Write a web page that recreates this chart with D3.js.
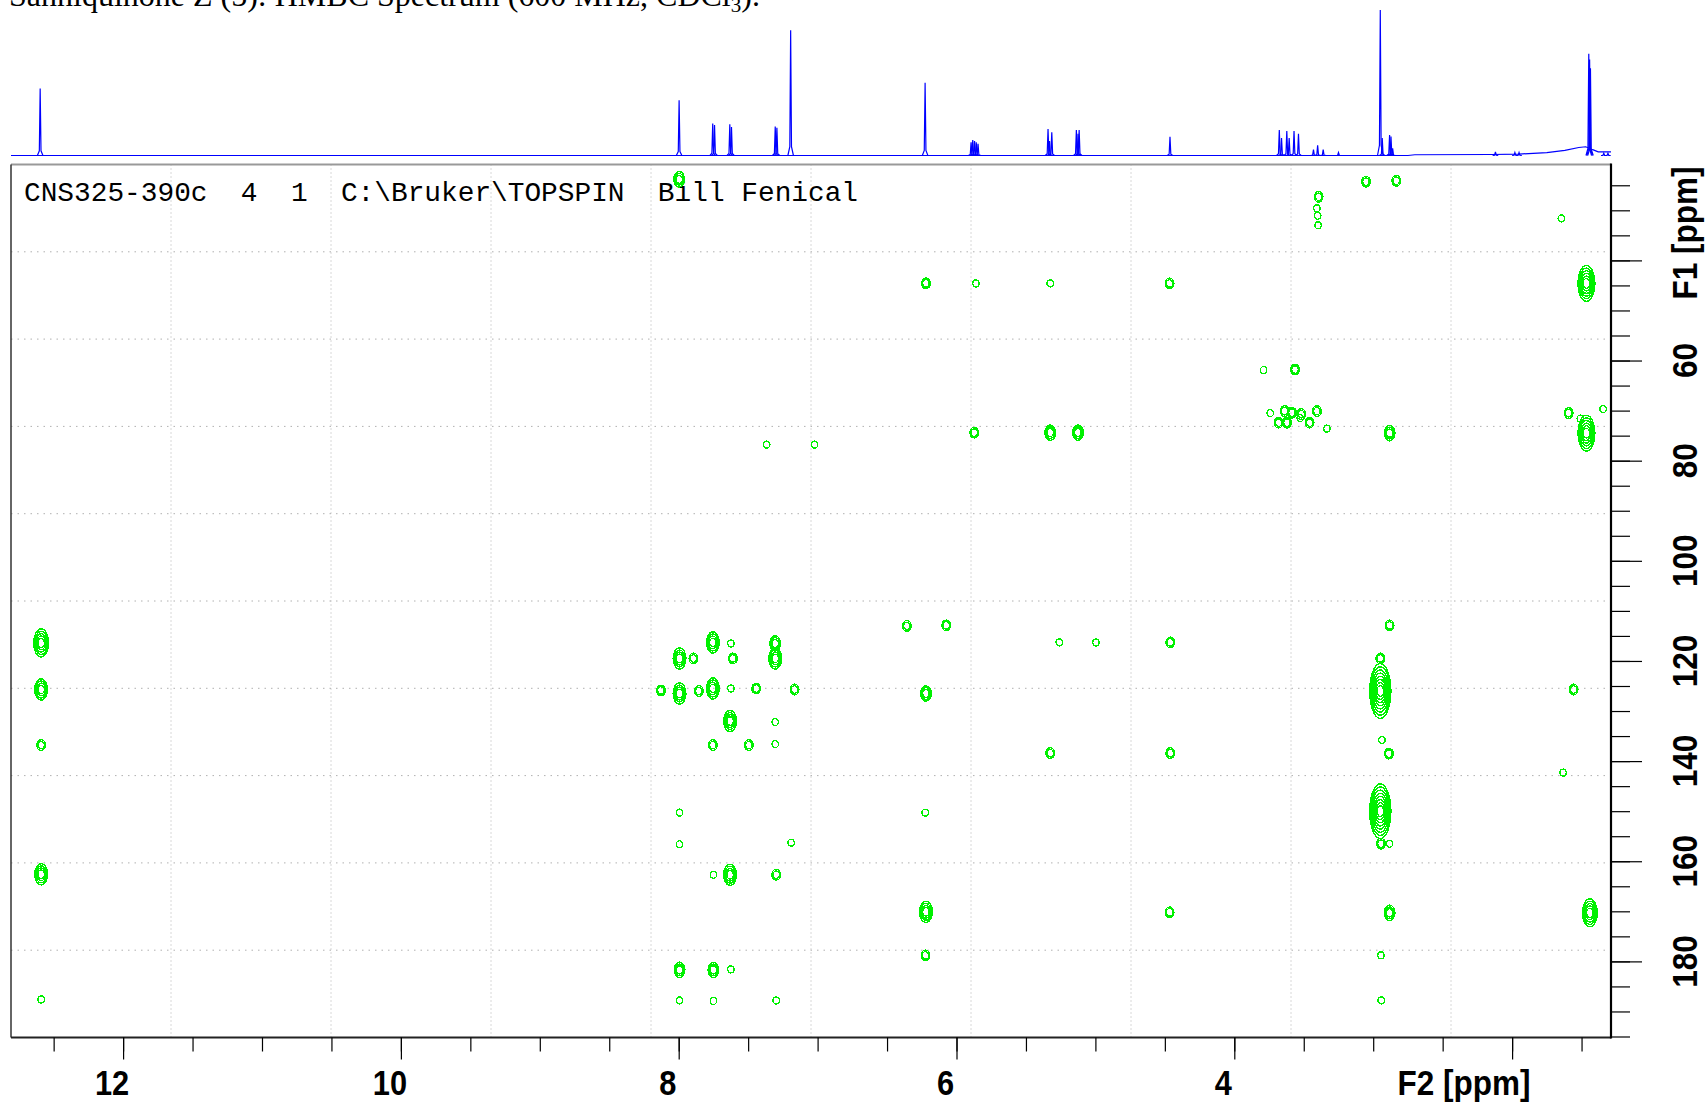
<!DOCTYPE html>
<html>
<head>
<meta charset="utf-8">
<script src="https://d3js.org/d3.v7.min.js"></script>
<style>
	body { margin: 0; background: #fff; }
	svg { display: block; }
	.axis-label { font-family: "Liberation Sans", Arial, sans-serif; font-weight: bold; font-size: 35px; fill: #000; }
	.header { font-family: "Liberation Mono", "Courier New", monospace; font-size: 27.8px; fill: #000; white-space: pre; }
	.title { font-family: "Liberation Serif", "Times New Roman", serif; font-size: 32px; fill: #000; }
</style>
</head>
<body>
<div id="chart"></div>
<script>
// 1H projection on top: [ppm, relative intensity]
let protonPeaks = [
	[12.597, 46], [7.997, 38], [7.755, 22], [7.742, 21], [7.632, 21.5], [7.620, 19.5],
	[7.305, 20], [7.293, 19], [7.194, 86], [6.226, 50],
	[5.895, 9], [5.883, 10.6], [5.870, 10], [5.858, 9], [5.845, 8],
	[5.341, 18.2], [5.330, 10], [5.314, 16], [5.137, 17.5], [5.125, 15], [5.117, 17.5],
	[4.463, 12.9], [3.676, 17.5], [3.660, 12], [3.622, 16.8], [3.605, 12], [3.570, 16.8], [3.538, 15],
	[3.43, 4], [3.40, 7], [3.36, 4], [3.25, 2], [2.949, 100], [2.935, 12], [2.882, 14], [2.872, 13], [2.86, 5],
	[2.12, 2.5], [1.98, 2], [1.95, 2], [1.448, 70], [1.442, 66], [1.436, 60], [1.34, 1.5], [1.31, 1.5]
];
let protonBaseline = [
	[12.807, 0], [2.75, 0], [2.70, 0.5], [2.15, 0.7], [1.95, 1], [1.75, 2], [1.62, 3.5],
	[1.52, 5.5], [1.47, 6], [1.42, 4], [1.38, 2.5], [1.288, 2.5]
];

// HMBC cross peaks: [F2 ppm, F1 ppm, number of contour levels]
let crossPeaks = [
	[12.59, 116.4, 5], [12.59, 125.7, 4], [12.59, 136.8, 2], [12.59, 162.6, 4], [12.59, 187.6, 1],
	[7.997, 23.8, 3], [8.128, 125.9, 2], [7.994, 119.5, 4], [7.994, 126.5, 4], [7.894, 119.5, 2],
	[7.855, 126.0, 2], [7.754, 116.3, 4], [7.754, 125.5, 4], [7.624, 116.5, 1], [7.610, 119.5, 2],
	[7.624, 125.5, 1], [7.442, 125.5, 2], [7.166, 125.7, 2], [7.63, 132.0, 4], [7.305, 132.2, 1],
	[7.305, 116.5, 3], [7.305, 119.5, 4], [7.754, 136.8, 2], [7.495, 136.8, 2], [7.305, 136.6, 1],
	[7.994, 150.3, 1], [7.994, 156.6, 1], [7.19, 156.3, 1], [7.75, 162.7, 1], [7.63, 162.7, 4],
	[7.298, 162.7, 2], [7.994, 181.7, 3], [7.75, 181.7, 3], [7.624, 181.6, 1], [7.994, 187.8, 1],
	[7.75, 187.9, 1], [7.298, 187.8, 1], [7.367, 76.8, 1], [7.022, 76.8, 1],
	[6.220, 44.6, 2], [6.357, 113.0, 2], [6.074, 112.9, 2], [6.220, 126.5, 3], [6.225, 150.3, 1],
	[6.220, 170.1, 4], [6.223, 178.8, 2], [5.860, 44.6, 1], [5.325, 44.6, 1], [4.466, 44.6, 2],
	[5.872, 74.4, 2], [5.325, 74.4, 3], [5.126, 74.4, 3], [5.260, 116.3, 1], [4.996, 116.3, 1],
	[4.461, 116.3, 2], [5.325, 138.4, 2], [4.461, 138.4, 2], [4.466, 170.2, 2],
	[3.789, 61.9, 1], [3.563, 61.8, 2], [3.741, 70.5, 1], [3.638, 70.1, 2], [3.585, 70.4, 2],
	[3.518, 70.7, 2], [3.405, 70.1, 2], [3.681, 72.4, 2], [3.621, 72.4, 2], [3.525, 71.5, 1],
	[3.458, 72.4, 2], [3.333, 73.6, 1], [3.052, 24.3, 2], [2.834, 24.1, 2], [3.393, 27.3, 2],
	[3.405, 29.6, 1], [3.40, 31.1, 1], [3.397, 33.0, 1], [2.882, 74.5, 3], [2.882, 112.9, 2],
	[2.949, 119.5, 2], [2.949, 126.0, 8], [2.937, 135.8, 1], [2.887, 138.5, 2], [2.949, 150.0, 8],
	[2.944, 156.5, 2], [2.882, 156.5, 1], [2.882, 170.3, 3], [2.944, 178.8, 1], [2.942, 187.8, 1],
	[1.645, 31.6, 1], [1.465, 44.6, 6], [1.593, 70.5, 2], [1.509, 71.6, 1], [1.345, 69.7, 1],
	[1.465, 74.5, 6], [1.557, 125.7, 2], [1.633, 142.3, 1], [1.44, 170.3, 5]
];

// axes
let f2Domain = [12.807, 1.288];
let f1Domain = [20.85, 195.2];
let f2MinorTicks = [12.5, 12, 11.5, 11, 10.5, 10, 9.5, 9, 8.5, 8, 7.5, 7, 6.5, 6, 5.5, 5, 4.5, 4, 3.5, 3, 2.5, 2, 1.5];
let f2MajorTicks = [12, 10, 8, 6, 4, 2];
let f2Labels = [12, 10, 8, 6, 4];
let f1MinorTicks = d3.range(25, 196, 5);
let f1MajorTicks = [40, 60, 80, 100, 120, 140, 160, 180];
let f1Labels = [60, 80, 100, 120, 140, 160, 180];

let titleText = "Sanniquinone Z (5): HMBC Spectrum (600 MHz, CDCl";
let headerText = "CNS325-390c  4  1  C:\\Bruker\\TOPSPIN  Bill Fenical";

let width = 1707;
let height = 1104;
let frame = { left: 11, right: 1611, top: 164.5, bottom: 1037.5 };
let green = "#00f000";

let x = d3.scaleLinear().domain(f2Domain).range([frame.left, frame.right]);
let y = d3.scaleLinear().domain(f1Domain).range([frame.top, frame.bottom]);
let yProj = d3.scaleLinear().domain([0, 100]).range([155.5, 10]);

let svg = d3.select("#chart").append("svg")
	.attr("width", width)
	.attr("height", height);

svg.append("rect").attr("width", width).attr("height", height).attr("fill", "#fff");

// page title, cut by the top edge as in the source page
let title = svg.append("text").attr("class", "title").attr("x", 9).attr("y", 6).text(titleText);
title.append("tspan").attr("font-size", "21px").attr("dy", 6).text("3");
title.append("tspan").attr("dy", -6).text(").");

// projection
let line = d3.line().x(d => x(d[0])).y(d => yProj(d[1]));
let proj = svg.append("g").attr("fill", "none").attr("stroke", "#0000ff").attr("stroke-width", 1.2);
proj.append("path").attr("d", line(protonBaseline));
proj.selectAll(".peak")
	.data(protonPeaks)
	.join("path")
	.attr("class", "peak")
	.attr("d", d => line([
		[d[0] + 0.02, 0], [d[0] + 0.006, d[1] * 0.07], [d[0], d[1]],
		[d[0] - 0.006, d[1] * 0.07], [d[0] - 0.02, 0]
	]));

// grid, ten divisions of the frame
let grid = svg.append("g").attr("stroke", "#b0b0b0").attr("stroke-width", 1);
grid.selectAll(".gx")
	.data(d3.range(1, 10))
	.join("line")
	.attr("x1", i => frame.left + i * (frame.right - frame.left) / 10)
	.attr("x2", i => frame.left + i * (frame.right - frame.left) / 10)
	.attr("y1", frame.top).attr("y2", frame.bottom)
	.attr("stroke-dasharray", "1,3");
grid.selectAll(".gy")
	.data(d3.range(1, 10))
	.join("line")
	.attr("y1", i => frame.top + i * (frame.bottom - frame.top) / 10)
	.attr("y2", i => frame.top + i * (frame.bottom - frame.top) / 10)
	.attr("x1", frame.left).attr("x2", frame.right)
	.attr("stroke-dasharray", "1.5,5");

svg.append("text").attr("class", "header").attr("x", 24).attr("y", 201).text(headerText);

// contours
svg.append("clipPath").attr("id", "plot-clip")
	.append("rect")
	.attr("x", frame.left).attr("y", frame.top)
	.attr("width", frame.right - frame.left).attr("height", frame.bottom - frame.top);

let contours = svg.append("g")
	.attr("clip-path", "url(#plot-clip)")
	.attr("fill", "none")
	.attr("stroke", green)
	.attr("stroke-width", 1.4)
	.attr("shape-rendering", "crispEdges");

contours.selectAll("g")
	.data(crossPeaks)
	.join("g")
	.attr("transform", d => `translate(${x(d[0])},${y(d[1])})`)
	.selectAll("ellipse")
	.data(d => d3.range(1, d[2] + 1).map(k => ({ k: k, n: d[2] })))
	.join("ellipse")
	.attr("rx", d => 2.2 + 1.05 * d.k)
	.attr("ry", d => 2.2 + 1.05 * d.k * (1 + 0.25 * d.n));

// frame
let border = svg.append("g");
border.append("line").attr("x1", frame.left).attr("x2", frame.right).attr("y1", frame.top).attr("y2", frame.top)
	.attr("stroke", "#999").attr("stroke-width", 2);
border.append("line").attr("x1", frame.left).attr("x2", frame.left).attr("y1", frame.top).attr("y2", frame.bottom)
	.attr("stroke", "#333").attr("stroke-width", 1.5);
border.append("line").attr("x1", frame.left).attr("x2", frame.right).attr("y1", frame.bottom).attr("y2", frame.bottom)
	.attr("stroke", "#222").attr("stroke-width", 1.8);
border.append("line").attr("x1", frame.right).attr("x2", frame.right).attr("y1", frame.top - 1).attr("y2", frame.bottom + 1)
	.attr("stroke", "#000").attr("stroke-width", 2.2);

// ticks via d3 axes
function drawAxis(axis, translate) {
	let g = svg.append("g").attr("transform", translate).call(axis);
	g.select(".domain").remove();
	g.selectAll(".tick line").attr("stroke", "#000").attr("stroke-width", 1.2);
	return g;
}
drawAxis(d3.axisBottom(x).tickValues(f2MinorTicks).tickSize(14).tickFormat(""), `translate(0,${frame.bottom})`);
drawAxis(d3.axisBottom(x).tickValues(f2MajorTicks).tickSize(22).tickFormat(""), `translate(0,${frame.bottom})`);
drawAxis(d3.axisRight(y).tickValues(f1MinorTicks).tickSize(19).tickFormat(""), `translate(${frame.right},0)`);
drawAxis(d3.axisRight(y).tickValues(f1MajorTicks).tickSize(31).tickFormat(""), `translate(${frame.right},0)`);

// tick labels, narrow bold
svg.selectAll(".f2-label")
	.data(f2Labels)
	.join("text")
	.attr("class", "axis-label")
	.attr("text-anchor", "middle")
	.attr("transform", d => `translate(${x(d) - 11},1095) scale(0.88,1)`)
	.text(d => d);
svg.append("text")
	.attr("class", "axis-label")
	.attr("text-anchor", "middle")
	.attr("transform", "translate(1464,1095) scale(0.9,1)")
	.text("F2 [ppm]");

svg.selectAll(".f1-label")
	.data(f1Labels)
	.join("text")
	.attr("class", "axis-label")
	.attr("text-anchor", "middle")
	.attr("transform", d => `translate(1697,${y(d)}) rotate(-90) scale(0.9,1)`)
	.text(d => d);
svg.append("text")
	.attr("class", "axis-label")
	.attr("text-anchor", "middle")
	.attr("transform", "translate(1697,233) rotate(-90) scale(0.9,1)")
	.text("F1 [ppm]");
</script>
</body>
</html>
